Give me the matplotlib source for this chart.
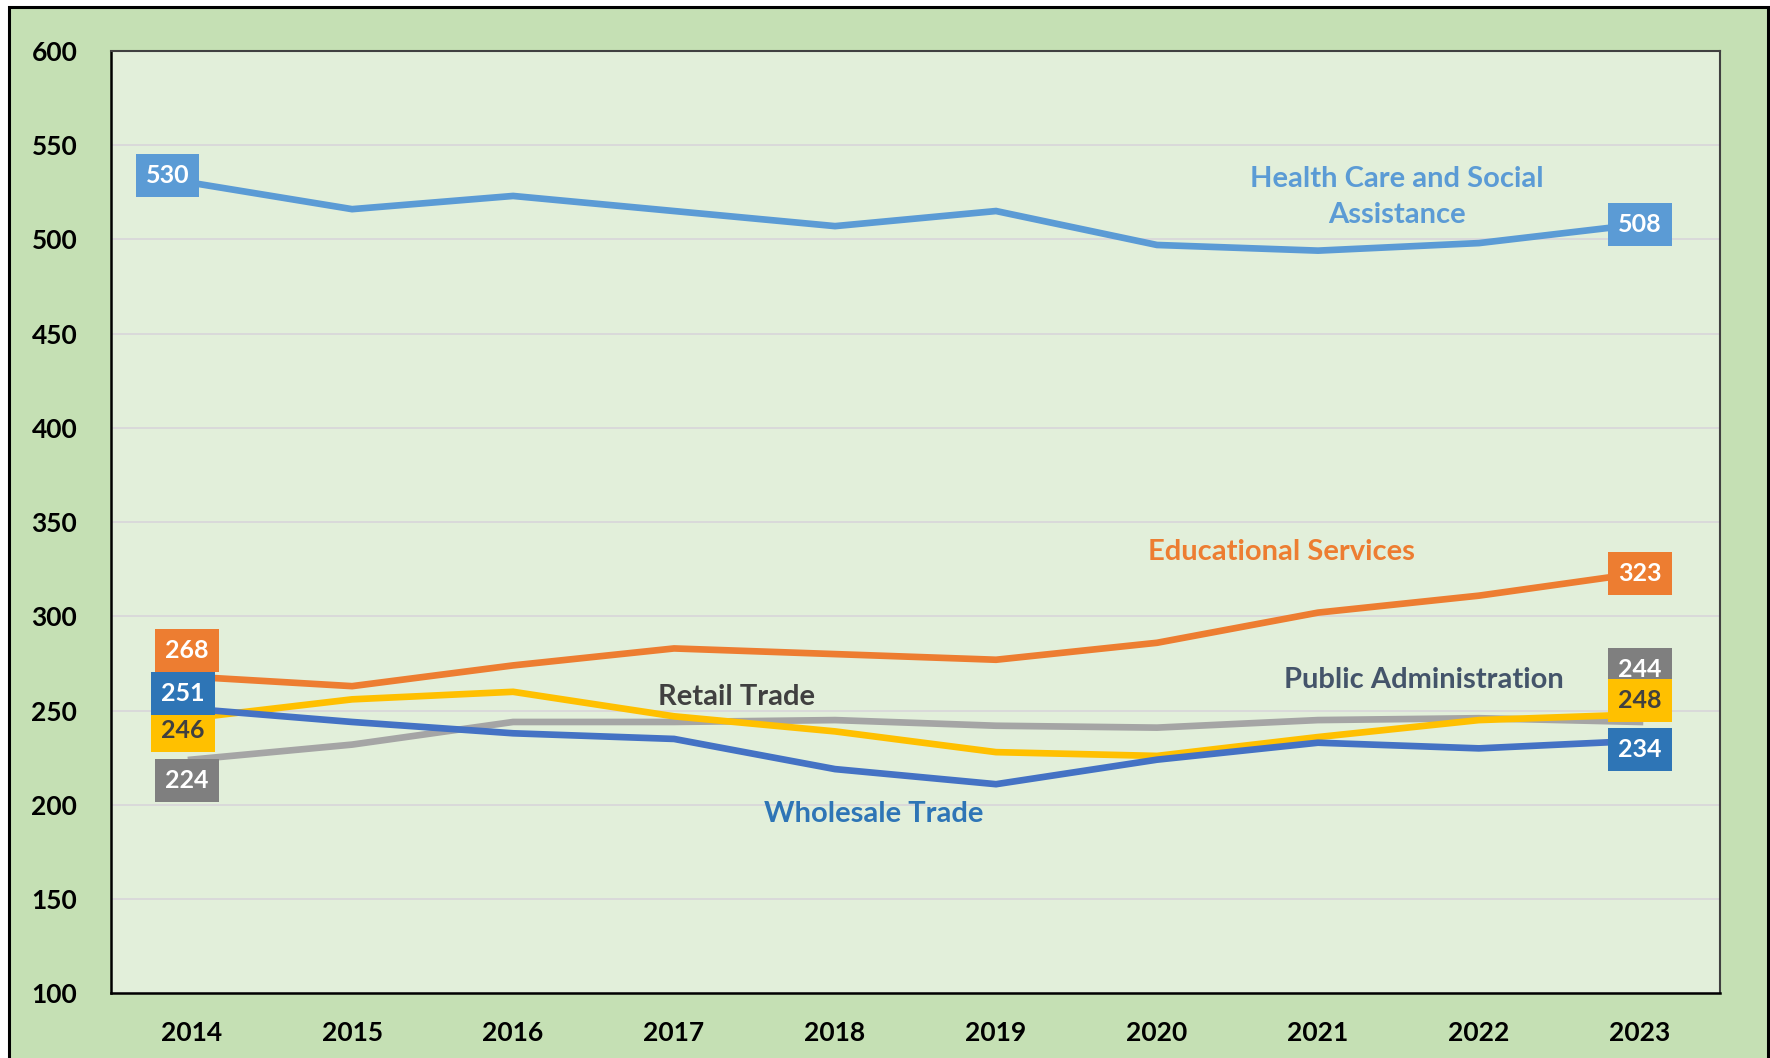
import matplotlib.pyplot as plt
from matplotlib.patches import Rectangle

plt.rcParams['font.family'] = ['Lato', 'DejaVu Sans']

# Dane (lata i wartości z wykresu)
years = [2014, 2015, 2016, 2017, 2018, 2019, 2020, 2021, 2022, 2023]
health = [530, 516, 523, 515, 507, 515, 497, 494, 498, 508]
education = [268, 263, 274, 283, 280, 277, 286, 302, 311, 323]
retail = [246, 256, 260, 247, 239, 228, 226, 236, 245, 248]
public_admin = [224, 232, 244, 244, 245, 242, 241, 245, 246, 244]
wholesale = [251, 244, 238, 235, 219, 211, 224, 233, 230, 234]

y_ticks = [100, 150, 200, 250, 300, 350, 400, 450, 500, 550, 600]

# kolejność rysowania: szary, żółty, niebieski, pomarańczowy, jasnoniebieski
series = [
    # values, line color, box color, box text color, first offset, last offset (pt)
    (public_admin, "#A5A5A5", "#7F7F7F", "white", (-3, -15), (0, 38)),
    (retail, "#FFC000", "#FFC000", "#404040", (-6, -9), (0, 10)),
    (wholesale, "#4472C4", "#2E75B6", "white", (-6, 11), (0, -6)),
    (education, "#ED7D31", "#ED7D31", "white", (-3, 19), (0, 0)),
    (health, "#5B9BD5", "#5B9BD5", "white", (-17, 5), (0, 0)),
]

fig = plt.figure(figsize=(17.7, 10.58), dpi=100)
fig.patch.set_facecolor("white")
# zielona ramka wykresu
fig.patches.append(Rectangle((9 / 1770, -0.05), 1759 / 1770, 1.05 - 7 / 1058,
                             transform=fig.transFigure, facecolor="#C5E0B4",
                             edgecolor="black", linewidth=2.2, zorder=-1))

ax = fig.add_axes([0.0625, 0.061, 0.9095, 0.891])
ax.set_facecolor("#E2EFDA")

for vals, lc, bc, tc, off0, off1 in series:
    ax.plot(years, vals, color=lc, linewidth=4.8, solid_joinstyle="miter", zorder=3)

for vals, lc, bc, tc, off0, off1 in series:
    for idx, off in ((0, off0), (-1, off1)):
        ax.annotate(str(vals[idx]), (years[idx], vals[idx]), xytext=off,
                    textcoords="offset points", ha="center", va="center",
                    fontsize=18, fontweight="bold", color=tc, zorder=5,
                    bbox=dict(boxstyle="square,pad=0.4", facecolor=bc, edgecolor="none"))

# etykiety serii
ax.text(2021.49, 522.5, "Health Care and Social\nAssistance", color="#5B9BD5",
        fontsize=21, fontweight="bold", ha="center", va="center", linespacing=1.45)
ax.text(2020.77, 334, "Educational Services", color="#ED7D31",
        fontsize=21, fontweight="bold", ha="center", va="center")
ax.text(2021.66, 266, "Public Administration", color="#44546A",
        fontsize=21, fontweight="bold", ha="center", va="center")
ax.text(2017.39, 257.5, "Retail Trade", color="#404040",
        fontsize=21, fontweight="bold", ha="center", va="center")
ax.text(2018.24, 195, "Wholesale Trade", color="#2E75B6",
        fontsize=21, fontweight="bold", ha="center", va="center")

ax.set_xlim(2013.5, 2023.5)
ax.set_ylim(100, 600)
ax.set_xticks(years)
ax.set_xticklabels([str(y) for y in years])
ax.set_yticks(y_ticks)
ax.tick_params(axis="both", length=0, labelsize=19)
ax.tick_params(axis="y", pad=24)
ax.tick_params(axis="x", pad=20)
for lab in ax.get_xticklabels() + ax.get_yticklabels():
    lab.set_fontweight("bold")

ax.grid(axis="y", color="#D9D9D9", linewidth=1.4)
ax.set_axisbelow(True)
for side in ["left", "bottom"]:
    ax.spines[side].set_color("black")
    ax.spines[side].set_linewidth(1.8)
for side in ["top", "right"]:
    ax.spines[side].set_color("#404040")
    ax.spines[side].set_linewidth(1.5)

fig.savefig("out.png", dpi=100, facecolor=fig.get_facecolor())
